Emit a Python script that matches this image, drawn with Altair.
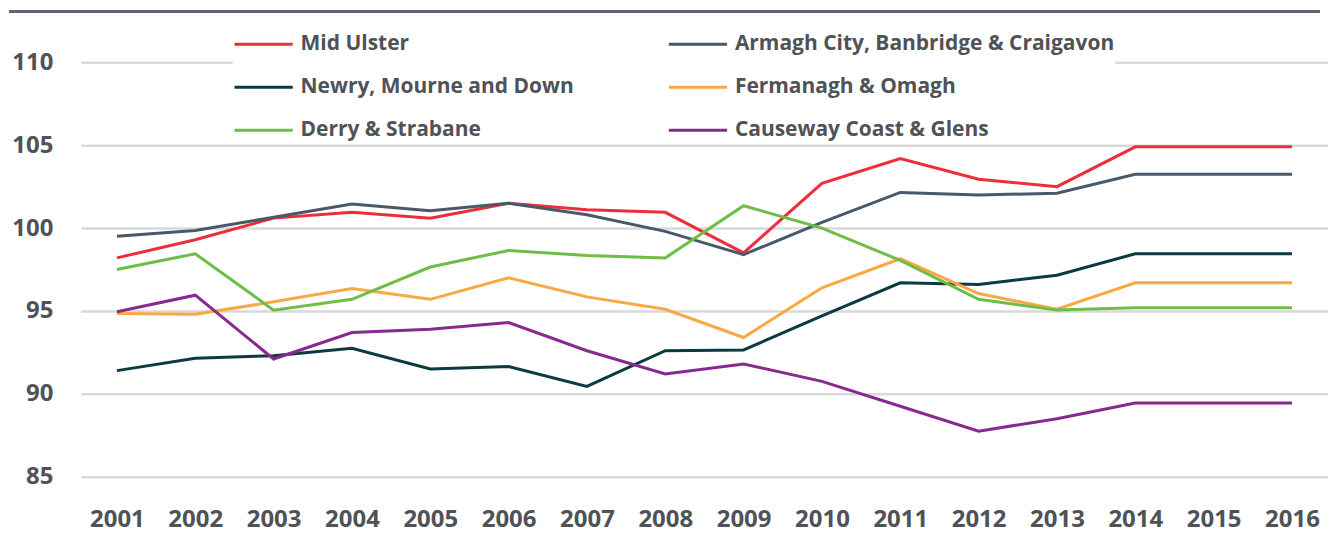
import altair as alt
import pandas as pd

years = [str(y) for y in range(2001, 2017)]

series_names = [
    "Mid Ulster",
    "Armagh City, Banbridge & Craigavon",
    "Newry, Mourne and Down",
    "Fermanagh & Omagh",
    "Derry & Strabane",
    "Causeway Coast & Glens",
]
series_colors = ["#ee2d3a", "#4a5967", "#0b3a40", "#f9a943", "#6dbd46", "#862a8f"]

mid_ulster = [98.2, 99.3, 100.6, 100.95, 100.6, 101.5, 101.1, 100.95, 98.5, 102.7, 104.2, 102.95, 102.5, 104.9, 104.9, 104.9]
armagh = [99.5, 99.85, 100.65, 101.45, 101.05, 101.5, 100.8, 99.8, 98.4, 100.35, 102.15, 102.0, 102.1, 103.25, 103.25, 103.25]
newry = [91.4, 92.15, 92.3, 92.75, 91.5, 91.65, 90.45, 92.6, 92.65, 94.7, 96.7, 96.6, 97.15, 98.45, 98.45, 98.45]
fermanagh = [94.85, 94.8, 95.55, 96.35, 95.7, 97.0, 95.85, 95.1, 93.4, 96.4, 98.15, 96.05, 95.1, 96.7, 96.7, 96.7]
derry = [97.5, 98.45, 95.05, 95.7, 97.65, 98.65, 98.35, 98.2, 101.35, 100.0, 98.05, 95.7, 95.05, 95.2, 95.2, 95.2]
causeway = [94.95, 95.95, 92.1, 93.7, 93.9, 94.3, 92.6, 91.2, 91.8, 90.75, 89.25, 87.75, 88.5, 89.45, 89.45, 89.45]

y_ticks = [85, 90, 95, 100, 105, 110]

all_values = [mid_ulster, armagh, newry, fermanagh, derry, causeway]
rows = []
for name, vals in zip(series_names, all_values):
    for yr, v in zip(years, vals):
        rows.append({"Year": yr, "Region": name, "Value": v})
df = pd.DataFrame(rows)

FONT = "Open Sans"
TXT = "#4f5256"

lines = alt.Chart(df).mark_line(strokeWidth=3).encode(
    x=alt.X("Year:O", sort=years, title=None,
            scale=alt.Scale(type="point", padding=0.46),
            axis=alt.Axis(labelAngle=0, labelPadding=31, ticks=False, domain=False,
                          labelFontSize=24, labelFontWeight="bold", labelColor=TXT,
                          labelFont=FONT, grid=False)),
    y=alt.Y("Value:Q", title=None,
            scale=alt.Scale(domain=[85, 110], nice=False, zero=False),
            axis=alt.Axis(values=y_ticks, ticks=False, domain=False, labelPadding=28,
                          labelFontSize=24, labelFontWeight="bold", labelColor=TXT,
                          labelFont=FONT, gridColor="#d9d9d9", gridWidth=2.5)),
    color=alt.Color("Region:N", sort=series_names,
                    scale=alt.Scale(domain=series_names, range=series_colors),
                    legend=alt.Legend(orient="none", legendX=152, legendY=-49,
                                      columns=2, title=None, direction="horizontal",
                                      symbolType="stroke", symbolSize=3400,
                                      symbolStrokeWidth=3, labelFontSize=21,
                                      labelFontWeight="bold", labelColor=TXT,
                                      labelFont=FONT, labelOffset=6, labelLimit=500,
                                      columnPadding=88, rowPadding=2,
                                      fillColor="white", padding=0)),
)

top_rule = alt.Chart(pd.DataFrame({"a": [0]})).mark_rule(
    color="#5b6472", strokeWidth=3
).encode(x=alt.value(-72), x2=alt.value(1241), y=alt.value(-51))

chart = alt.layer(top_rule, lines).properties(
    width=1249, height=415,
    autosize=alt.AutoSizeParams(type="none"),
    padding={"left": 73, "top": 54, "right": 0, "bottom": 70},
).configure_view(stroke=None)

chart.save("out.html", embed_options={"renderer": "svg", "actions": False})
